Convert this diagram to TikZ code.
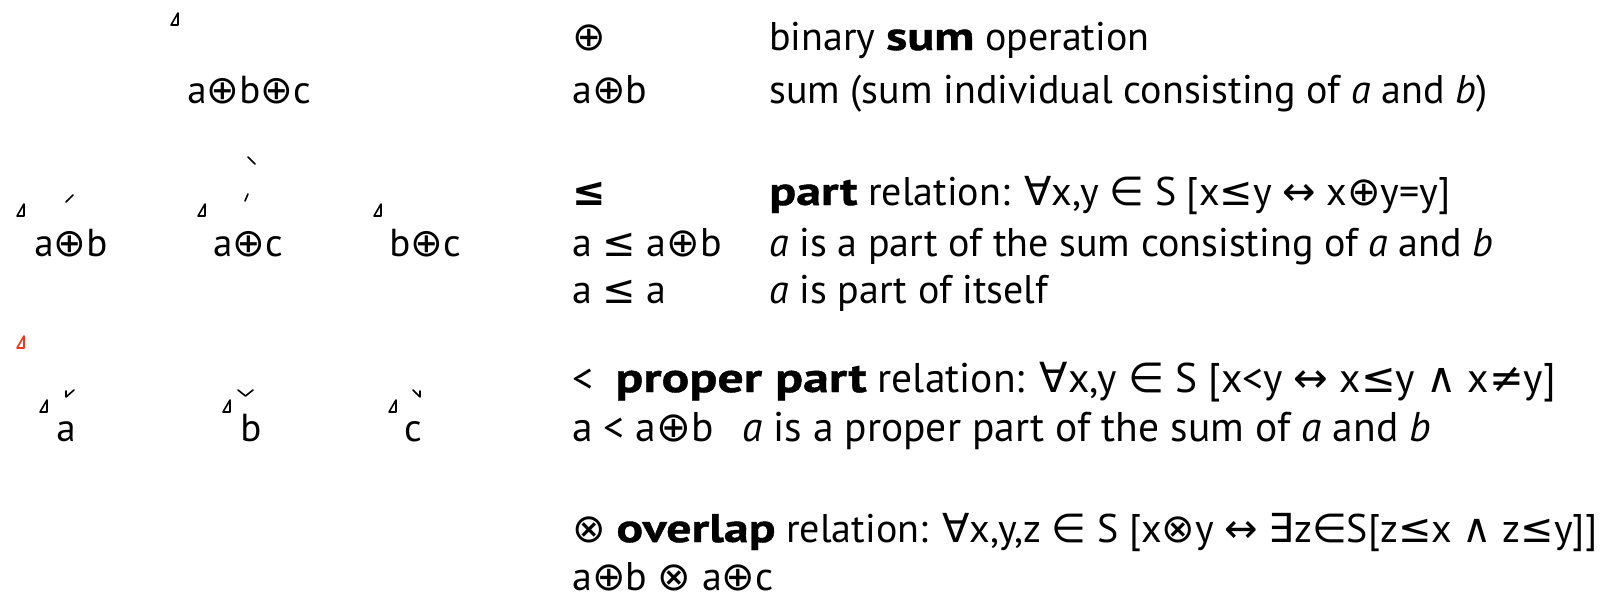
\documentclass[tikz,border=0pt]{standalone}
\usepackage{fontspec}
\setmainfont{PT Sans}[BoldFeatures={FakeStretch=1.25,FakeBold=1}]
\newfontfamily\opfont{DejaVu Sans}[Scale=1.0]
\usetikzlibrary{positioning}
\definecolor{fragred}{rgb}{1,0.18,0.08}
\newcommand{\op}[1]{{\opfont #1}}

\begin{document}
\begin{tikzpicture}[x=1pt,y=-1pt,
    lattice/.style={font=\fontsize{39}{46}\selectfont,inner sep=0pt,anchor=base},
    defline/.style={font=\fontsize{40}{48}\selectfont,inner sep=0pt,anchor=base west},
    bigline/.style={defline,font=\fontsize{41.5}{50}\selectfont},
    frag/.style={line width=1.6pt,line cap=round,line join=round},
    tri/.pic={\draw[frag] (0,0) -- (7,0) -- (7,-12) -- cycle;}]
          \useasboundingbox (0,0) rectangle (1608,598);
          % the lattice of sums
          \node[lattice] (abc) at (249,103) {a\op{⊕}b\op{⊕}c};
          \node[lattice] (ab) at (71,256) {a\op{⊕}b};
          \node[lattice] (ac) at (248,256) {a\op{⊕}c};
          \node[lattice] (bc) at (425,256) {b\op{⊕}c};
          \node[lattice] (a) at (66,441) {a};
          \node[lattice] (b) at (251,441) {b};
          \node[lattice] (c) at (413,441) {c};
          % what is left of the edges
          \pic at (171,25) {tri};
          \pic at (17,216) {tri};
          \pic at (198,216) {tri};
          \pic at (374,216) {tri};
          \pic[fragred] at (17,348) {tri};
          \pic at (40,412) {tri};
          \pic at (223,412) {tri};
          \pic at (389,412) {tri};
          \draw[frag] (248,157) -- (255,164);
          \draw[frag] (66,202) -- (73,195);
          \draw[frag] (245,201) -- (248,194);
          \draw[frag] (66,391) -- (66,397) -- (74,390);
          \draw[frag] (238,390) -- (245.5,396) -- (253,390);
          \draw[frag] (413,390) -- (420,397) -- (420,391);
          % definitions
          \node[defline] (sumsym) at (572,50) {\op{⊕}};
          \node[defline] (sumdef) at (769,50) {binary \textbf{sum} operation};
          \node[defline] (abex) at (572,103) {a\op{⊕}b};
          \node[defline] (abdef) at (769,103) {sum (sum individual consisting of \textit{a} and \textit{b})};
          \node[defline] (partsym) at (572,205) {\textbf{\op{≤}}};
          \node[defline] (partdef) at (769,205) {\textbf{part} relation: \op{∀}x,y \op{∈} S [x\op{≤}y \op{↔} x\op{⊕}y=y]};
          \node[defline] (partex) at (572,256) {a \op{≤} a\op{⊕}b};
          \node[defline] (partexdef) at (769,256) {\textit{a} is a part of the sum consisting of \textit{a} and \textit{b}};
          \node[defline] (selfex) at (572,303) {a \op{≤} a};
          \node[defline] (selfdef) at (769,303) {\textit{a} is part of itself};
          \node[bigline] (propdef) at (572,392) {<\ \ \textbf{proper part} relation: \op{∀}x,y \op{∈} S [x<y \op{↔} x\op{≤}y \op{∧} x\op{≠}y]};
          \node[bigline] (propex) at (572,441) {a < a\op{⊕}b};
          \node[bigline,right=28pt of propex.base east,anchor=base west] (propexdef) {\textit{a} is a proper part of the sum of \textit{a} and \textit{b}};
          \node[defline] (ovdef) at (572,542) {\op{⊗} \textbf{overlap} relation: \op{∀}x,y,z \op{∈} S [x\op{⊗}y \op{↔} \op{∃}z\op{∈}S[z\op{≤}x \op{∧} z\op{≤}y]]};
          \node[defline] (ovex) at (572,590) {a\op{⊕}b \op{⊗} a\op{⊕}c};
\end{tikzpicture}
\end{document}
